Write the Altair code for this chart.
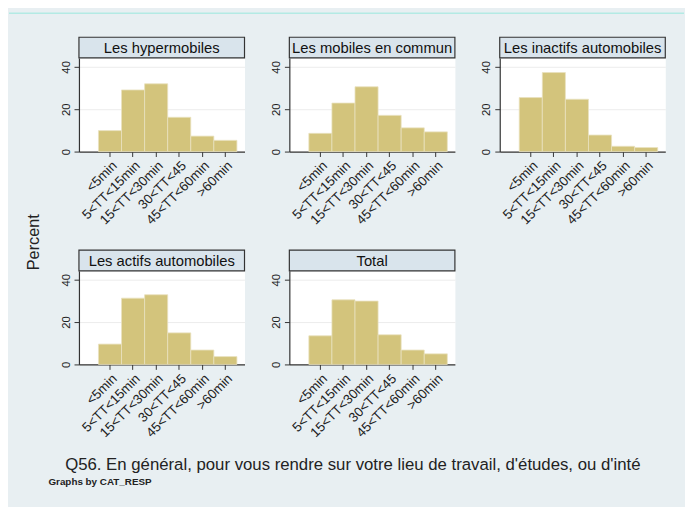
import altair as alt
import pandas as pd

CATS = ["<5min", "5<TT<15min", "15<TT<30min", "30<TT<45", "45<TT<60min", ">60min"]

TITLES = ["Les hypermobiles", "Les mobiles en commun", "Les inactifs automobiles",
          "Les actifs automobiles", "Total"]
V_HYPER = [9.9, 29.1, 32.0, 16.2, 7.3, 5.3]
V_COMMUN = [8.6, 22.9, 30.6, 17.1, 11.2, 9.3]
V_INACT = [25.5, 37.3, 24.7, 7.8, 2.5, 1.9]
V_ACTIFS = [9.6, 31.3, 32.9, 14.9, 6.8, 3.7]
V_TOTAL = [13.5, 30.5, 29.9, 14.0, 6.8, 5.0]
Y_TICKS = [0, 20, 40]

FOOT1 = "Q56. En général, pour vous rendre sur votre lieu de travail, d'études, ou d'inté"
FOOT2 = "Graphs by CAT_RESP"
YTITLE = "Percent"

W, H = 168, 95
BG = "#e8eff2"
TEAL = "#7ee6d5"
BAR = "#d3c47c"
HDR = "#d9e4ec"
DARK = "#333333"
FONT = "Liberation Sans"


def panel(title, vals, extra=None):
    df = pd.DataFrame({"cat": CATS, "pct": vals})
    bars = alt.Chart(df).mark_bar(color=BAR, stroke="#e9e2bf", strokeWidth=0.8).encode(
        x=alt.X("cat:N", sort=CATS,
                scale=alt.Scale(paddingInner=0, paddingOuter=0.587, align=0.72),
                axis=alt.Axis(title=None, labelAngle=-45, labelFontSize=13.5, labelFont=FONT,
                              labelColor="#222222", tickSize=5, tickColor=DARK,
                              domainColor=DARK, domainWidth=1.2, labelPadding=2)),
        y=alt.Y("pct:Q", scale=alt.Scale(domain=[0, 44.2], nice=False),
                axis=alt.Axis(title=None, values=Y_TICKS, labelAngle=-90, labelFontSize=11.5,
                              labelFont=FONT, labelColor="#222222", tickSize=5,
                              tickColor=DARK, domainColor=DARK, domainWidth=1.2,
                              grid=True, gridColor="#ececec", labelPadding=3)),
    )
    hdf = pd.DataFrame({"t": [title]})
    rect = alt.Chart(hdf).mark_rect(fill=HDR, stroke=DARK, strokeWidth=1.2).encode(
        x=alt.value(0), x2=alt.value(W), y=alt.value(-21), y2=alt.value(0))
    txt = alt.Chart(hdf).mark_text(fontSize=15, font=FONT, color="#111111",
                                   align="center", baseline="middle").encode(
        x=alt.value(W / 2), y=alt.value(-10), text="t:N")
    layers = [bars, rect, txt]
    if extra:
        layers = extra + layers
    return alt.layer(*layers).properties(width=W, height=H)


one = pd.DataFrame({"t": [""]})
frame = alt.Chart(one).mark_rect(fill=BG, fillOpacity=0).encode(
    x=alt.value(-71), x2=alt.value(-71 + 685), y=alt.value(-46), y2=alt.value(-46 + 499))
strip = alt.Chart(one).mark_rect(fill=TEAL).encode(
    x=alt.value(-71), x2=alt.value(-71 + 685), y=alt.value(-46), y2=alt.value(-45))

tdf_p = pd.DataFrame({"t": [YTITLE]})
tdf_1 = pd.DataFrame({"t": [FOOT1]})
tdf_2 = pd.DataFrame({"t": [FOOT2]})
ptitle = alt.Chart(tdf_p).mark_text(fontSize=16.5, font=FONT, color="#222222", angle=270,
                                    align="center", baseline="middle").encode(
    x=alt.value(-46), y=alt.value(-29), text="t:N")
foot1 = alt.Chart(tdf_1).mark_text(fontSize=17, font=FONT, color="#222222",
                                   align="left", baseline="alphabetic").encode(
    x=alt.value(-14), y=alt.value(202), text="t:N")
foot2 = alt.Chart(tdf_2).mark_text(fontSize=10, font=FONT,
                                   fontWeight="bold", color="#222222",
                                   align="left", baseline="alphabetic").encode(
    x=alt.value(-31), y=alt.value(217), text="t:N")

p1 = panel(TITLES[0], V_HYPER, extra=[frame, strip])
p2 = panel(TITLES[1], V_COMMUN)
p3 = panel(TITLES[2], V_INACT)
p4 = panel(TITLES[3], V_ACTIFS, extra=[ptitle, foot1, foot2])
p5 = panel(TITLES[4], V_TOTAL)

chart = alt.concat(p1, p2, p3, p4, p5, columns=3,
                   spacing={"row": 121, "column": 45.5}, bounds="flush").properties(
    padding=0, background=BG
).configure_view(fill="white", stroke="transparent")

chart.save("out.html", embed_options={"renderer": "svg", "actions": False})
